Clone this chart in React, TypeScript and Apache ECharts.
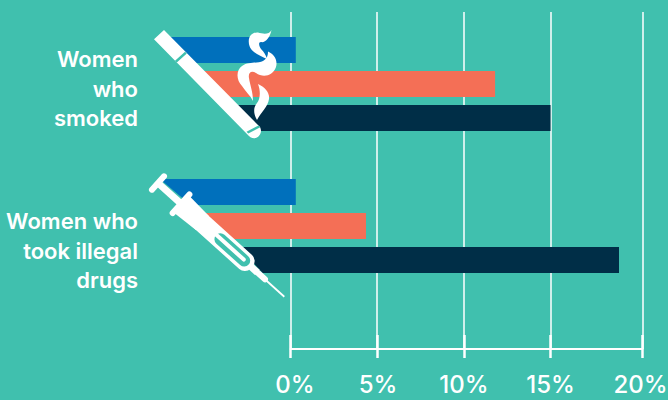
import React, { useEffect, useRef } from "react";
import * as echarts from "echarts";

const categories = ["Women who smoked", "Women who took illegal drugs"];
const blueValues = [0.3, 0.3];
const orangeValues = [11.8, 4.35];
const navyValues = [15, 18.95];
// Hidden left ends of the bars, behind the icons (percentage-axis units)
const blueStarts = [-7.25, -7.55];
const orangeStarts = [-5.3, -5.35];
const navyStarts = [-3.35, -3.0];
const slants = [26, 31];
const navySlants = [26, 24];
const tickValues = [0, 5, 10, 15, 20.3];
const labelValues = [0.25, 5.05, 10, 15, 20.2];
const tickLabels = ["0%", "5%", "10%", "15%", "20%"];
const labelLines = [["Women", "who", "smoked"], ["Women who", "took illegal", "drugs"]];

const BG = "#40C0AE";
const BLUE = "#0070BC";
const ORANGE = "#F46F56";
const NAVY = "#002E47";
const FONT = "Inter, sans-serif";

const cigaretteBody = "M154 39.3 L164 30 L260 127 C262 131 261 135 257 137.5 C254 139 250 138 247 134 Z";
const cigaretteBands = "M175 60.7 L185 51.7 L186.8 53.5 L176.8 62.5 Z M246.5 131.8 L258.5 125.5 L260.3 127.3 L248.3 133.6 Z";
const smokeA = "M271.5 30 C270 38 265 43 261 42 C258 42 259 46 261 49 C264 52 266 55 267 59 C260 56 251 52 249.5 46 C247 38 251 32 258 32.5 C263 34 269 35 271.5 30 Z";
const smokeB = "M268 51.5 C274 54 278 60 276 67 C273 76 263 78 256 73 C251 70 248 73 249 78 C250 85 253 92 253 101 C250 95 245 91 242 86 C236 80 236 70 242 66 C249 61 258 64 263 61 C266 59 268 57 268 51.5 Z";
const smokeC = "M258 84 C265 87 270 93 269 99 C268 107 261 112 257 120 C253 113 253.5 107 257 103 C260 99 261 92 258 84 Z";

function urect(u0: number, u1: number, v0: number, v1: number, r: number, fill: string, z: number) {
  return { type: "rect", z, shape: { x: u0, y: v0, width: u1 - u0, height: v1 - v0, r }, style: { fill } };
}

function makeOption(): any {
  const rows = categories.flatMap((_, i) => [
    [i, blueStarts[i], blueValues[i], -34, BLUE, slants[i]],
    [i, orangeStarts[i], orangeValues[i], 0, ORANGE, slants[i]],
    [i, navyStarts[i], navyValues[i], 34, NAVY, navySlants[i]],
  ]);
  const unit = (x: number) => (x - 290.6) / 17.33;
  const labelGraphics = labelLines.flatMap((lines, i) =>
    lines.map((text, j) => ({
      type: "text",
      z: 20,
      style: {
        text,
        x: 138,
        y: (i === 0 ? 59 : 221) + j * 29.5,
        align: "right",
        verticalAlign: "middle",
        font: `600 22px ${FONT}`,
        fill: "#fff",
      },
    }))
  );
  return {
    animation: false,
    backgroundColor: BG,
    grid: [
      { left: 0, width: 668, top: 13, height: 284, outerBoundsMode: "none" },
      { left: 290.6, width: 351.7, top: 12, bottom: 51, outerBoundsMode: "none" },
    ],
    xAxis: [
      { gridIndex: 0, type: "value", min: unit(0), max: unit(668), show: false },
      {
        gridIndex: 1,
        type: "value",
        min: 0,
        max: 20.3,
        position: "bottom",
        axisLine: { show: true, lineStyle: { color: "#fff", width: 2 } },
        axisTick: { show: true, inside: true, length: 14, customValues: tickValues, lineStyle: { color: "#fff", width: 2.5 } },
        axisLabel: { show: false, customValues: tickValues },
        splitLine: { show: true, lineStyle: { color: "#fff", width: 1.5 } },
      },
      {
        gridIndex: 1,
        type: "value",
        min: 0,
        max: 20.3,
        position: "bottom",
        axisLine: { show: false },
        axisTick: { show: true, length: 9, customValues: tickValues, lineStyle: { color: "#fff", width: 2.5 } },
        axisLabel: {
          show: true,
          customValues: labelValues,
          margin: 23,
          color: "#fff",
          fontFamily: FONT,
          fontWeight: 500,
          fontSize: 24,
          hideOverlap: false,
          showMinLabel: true,
          showMaxLabel: true,
          formatter: (v: number) => tickLabels[labelValues.indexOf(v)],
        },
        splitLine: { show: false },
      },
    ],
    yAxis: [
      { gridIndex: 0, type: "category", data: categories, inverse: true, show: false },
      { gridIndex: 1, type: "value", show: false, splitLine: { show: false } },
    ],
    graphic: [
      ...labelGraphics,
      { type: "cigBody", z: 20, style: { fill: "#fff" } },
      { type: "cigBands", z: 21, style: { fill: BG } },
      { type: "smokeA", z: 22, style: { fill: "#fff" } },
      { type: "smokeB", z: 22, style: { fill: "#fff" } },
      { type: "smokeC", z: 22, style: { fill: "#fff" } },
      {
        type: "group",
        x: 158,
        y: 183,
        rotation: (-42 * Math.PI) / 180,
        children: [
          urect(-3, 3, -12, 12, 3, "#fff", 20),
          urect(0, 32, -3.5, 3.5, 0, "#fff", 20),
          urect(28, 34, -15.5, 15.5, 3, "#fff", 20),
          urect(31, 126, -9.5, 9.5, 8, "#fff", 20),
          { type: "polygon", z: 20, shape: { points: [[31, -11.5], [60, -9.5], [60, 9.5], [31, 11.5]] }, style: { fill: "#fff" } },
          urect(78, 122, -6, 6, 6, BG, 21),
          urect(76, 117, -2.5, 1.5, 2, "#fff", 22),
          urect(124, 134, -3.5, 3.5, 0, "#fff", 20),
          urect(132, 147, -3, 3, 3, "#fff", 20),
          urect(145, 170, -0.9, 0.9, 0, "#fff", 20),
        ],
      },
    ],
    series: [
      {
        type: "custom",
        xAxisIndex: 0,
        yAxisIndex: 0,
        data: rows,
        encode: { x: [1, 2], y: 0 },
        clip: true,
        renderItem: (p: any, api: any) => {
          const a = api.coord([api.value(1), api.value(0)]);
          const b = api.coord([api.value(2), api.value(0)]);
          const h = 26;
          const row = rows[p.dataIndex];
          const top = a[1] + (row[3] as number) - h / 2;
          return {
            type: "polygon",
            shape: {
              points: [
                [a[0], top],
                [b[0], top],
                [b[0], top + h],
                [a[0] + (row[5] as number), top + h],
              ],
            },
            style: { fill: row[4] },
          };
        },
      },
    ],
  };
}

export default function App() {
  const ref = useRef<HTMLDivElement>(null);
  useEffect(() => {
    const g: any = echarts.graphic;
    g.registerShape("cigBody", g.extendPath(cigaretteBody, {}));
    g.registerShape("cigBands", g.extendPath(cigaretteBands, {}));
    g.registerShape("smokeA", g.extendPath(smokeA, {}));
    g.registerShape("smokeB", g.extendPath(smokeB, {}));
    g.registerShape("smokeC", g.extendPath(smokeC, {}));
    const chart = echarts.init(ref.current!, undefined, { renderer: "svg" });
    chart.setOption(makeOption());
    return () => chart.dispose();
  }, []);
  return <div ref={ref} style={{ position: "fixed", left: 0, top: 0, width: 668, height: 400 }} />;
}
